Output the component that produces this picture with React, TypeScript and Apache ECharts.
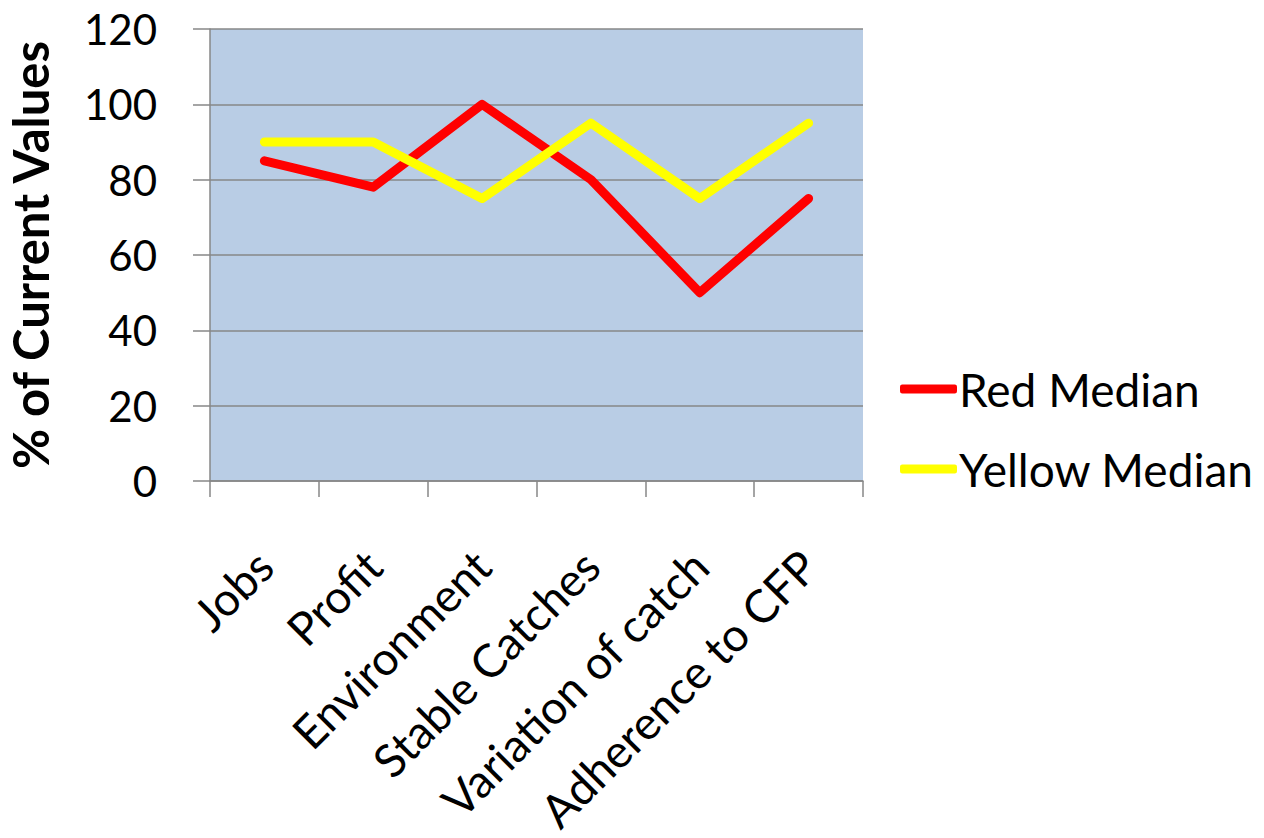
import React, { useEffect, useRef } from "react";
import * as echarts from "echarts";

const categories = [
  "Jobs",
  "Profit",
  "Environment",
  "Stable Catches",
  "Variation of catch",
  "Adherence to CFP",
];
const redMedian = [85, 78, 100, 80, 50, 75];
const yellowMedian = [90, 90, 75, 95, 75, 95];
const yTicks = { min: 0, max: 120, interval: 20 };

const FONT = "Lato, 'Open Sans', sans-serif";
const GRID_GRAY = "#878787";

export default function App() {
  const ref = useRef<HTMLDivElement>(null);

  useEffect(() => {
    if (!ref.current) return;
    const chart = echarts.init(ref.current, null, { renderer: "svg" });
    chart.setOption({
      animation: false,
      backgroundColor: "#ffffff",
      textStyle: { fontFamily: FONT },
      grid: {
        left: 210,
        top: 29,
        right: 401,
        bottom: 357,
        show: true,
        backgroundColor: "#B9CDE5",
        borderWidth: 0,
        containLabel: false,
        outerBoundsMode: "none",
      },
      legend: {
        orient: "vertical",
        left: 900,
        top: 363,
        padding: 0,
        itemWidth: 57,
        itemHeight: 9,
        itemGap: 28,
        icon: "roundRect",
        textStyle: {
          fontFamily: FONT,
          fontSize: 46,
          color: "#000",
          lineHeight: 52,
          padding: [0, 0, 0, -3],
        },
        data: ["Red Median", "Yellow Median"],
      },
      xAxis: {
        type: "category",
        data: categories,
        boundaryGap: true,
        axisLine: { show: true, lineStyle: { color: GRID_GRAY, width: 1.5 } },
        axisTick: {
          show: true,
          length: 16,
          lineStyle: { color: GRID_GRAY, width: 1.5 },
        },
        axisLabel: {
          rotate: 45,
          margin: 77,
          fontFamily: FONT,
          fontSize: 46,
          color: "#000",
          interval: 0,
        },
        splitLine: { show: false },
      },
      yAxis: {
        type: "value",
        min: yTicks.min,
        max: yTicks.max,
        interval: yTicks.interval,
        name: "% of Current Values",
        nameLocation: "middle",
        nameRotate: 90,
        nameGap: 156,
        nameTextStyle: {
          fontFamily: FONT,
          fontSize: 49,
          fontWeight: "bold",
          color: "#000",
        },
        axisLine: { show: true, lineStyle: { color: GRID_GRAY, width: 1.5 } },
        axisTick: {
          show: true,
          inside: false,
          length: 17,
          lineStyle: { color: GRID_GRAY, width: 1.5 },
        },
        axisLabel: {
          margin: 53,
          fontFamily: FONT,
          fontSize: 42,
          color: "#000",
        },
        splitLine: { show: true, lineStyle: { color: GRID_GRAY, width: 1.5 } },
      },
      series: [
        {
          name: "Red Median",
          type: "line",
          data: redMedian,
          showSymbol: false,
          symbol: "none",
          itemStyle: { color: "#FF0000" },
          lineStyle: { color: "#FF0000", width: 9, cap: "round", join: "round" },
        },
        {
          name: "Yellow Median",
          type: "line",
          data: yellowMedian,
          showSymbol: false,
          symbol: "none",
          itemStyle: { color: "#FFFF00" },
          lineStyle: { color: "#FFFF00", width: 9, cap: "round", join: "round" },
        },
      ],
    });
    return () => chart.dispose();
  }, []);

  return (
    <div
      ref={ref}
      style={{ position: "fixed", left: 0, top: 0, width: 1264, height: 838 }}
    />
  );
}
